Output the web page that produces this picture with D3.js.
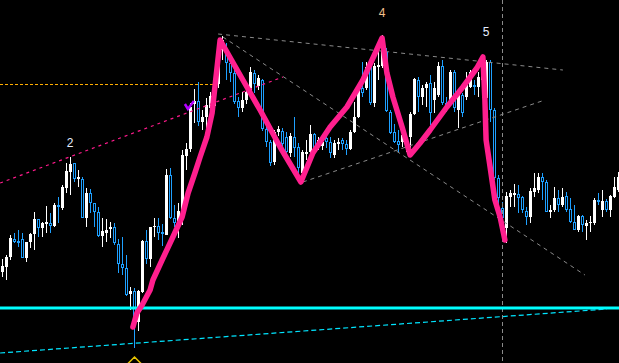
<!DOCTYPE html>
<html>
<head>
<meta charset="utf-8">
<script src="https://cdn.jsdelivr.net/npm/d3@7"></script>
<style>
  html, body { margin: 0; padding: 0; background: #000; overflow: hidden; }
  svg { display: block; }
</style>
</head>
<body>
<div id="chart"></div>
<script>
// candle data (price units, higher = up)
const open = [91, 96, 106, 124, 122, 124, 105, 121, 129, 144, 135, 139, 140, 137, 158, 155, 175, 191, 200, 184,
  184, 145, 170, 160, 151, 127, 130, 134, 136, 119, 99, 95, 69, 72, 41, 71, 122, 104, 136, 137,
  131, 128, 188, 145, 140, 151, 207, 214, 259, 262, 241, 246, 255, 257, 279, 313, 314, 300, 290, 262,
  255, 263, 271, 290, 277, 283, 234, 221, 201, 231, 232, 226, 210, 226, 216, 190, 209, 211, 229, 221,
  217, 225, 221, 208, 219, 223, 219, 214, 231, 246, 275, 275, 297, 260, 296, 297, 311, 251, 231, 222,
  221, 217, 226, 249, 283, 266, 275, 280, 263, 268, 297, 260, 260, 291, 253, 268, 266, 276, 278, 276,
  283, 265, 301, 253, 185, 155, 135, 166, 168, 169, 166, 152, 146, 171, 173, 186, 181, 151, 153, 165,
  158, 167, 154, 141, 133, 147, 137, 140, 140, 163, 153, 162, 153, 166, 173]
const high = [104, 108, 128, 130, 133, 130, 121, 130, 151, 144, 141, 157, 150, 160, 166, 178, 200, 206, 200, 193,
  186, 175, 174, 160, 156, 145, 144, 141, 140, 124, 126, 108, 76, 75, 73, 123, 133, 136, 145, 145,
  139, 194, 195, 158, 160, 213, 220, 260, 274, 281, 253, 265, 271, 288, 325, 327, 320, 308, 298, 266,
  271, 280, 296, 293, 288, 284, 237, 223, 233, 237, 235, 231, 230, 246, 220, 213, 223, 238, 230, 226,
  228, 228, 226, 223, 225, 225, 223, 233, 261, 275, 301, 301, 300, 300, 316, 328, 315, 253, 239, 233,
  235, 228, 251, 285, 286, 278, 281, 288, 281, 301, 303, 266, 293, 293, 273, 270, 291, 293, 283, 291,
  307, 303, 303, 255, 188, 161, 171, 173, 179, 178, 167, 156, 175, 190, 190, 190, 183, 158, 176, 173,
  175, 171, 165, 158, 148, 148, 143, 147, 165, 170, 173, 164, 168, 186, 191]
const low = [86, 83, 103, 120, 116, 105, 101, 115, 113, 126, 126, 130, 130, 136, 140, 153, 170, 168, 181, 176,
  145, 136, 150, 136, 126, 116, 121, 125, 118, 90, 88, 67, 53, 15, 32, 70, 99, 96, 126, 123,
  117, 128, 144, 136, 125, 138, 193, 211, 240, 237, 233, 235, 251, 253, 275, 303, 283, 281, 259, 246,
  251, 259, 267, 270, 273, 232, 216, 197, 198, 227, 215, 205, 206, 206, 190, 186, 203, 210, 211, 213,
  213, 215, 205, 205, 213, 213, 208, 213, 230, 245, 266, 273, 258, 256, 283, 295, 251, 229, 220, 211,
  216, 211, 215, 248, 251, 258, 256, 238, 250, 266, 258, 251, 257, 251, 235, 246, 263, 275, 268, 266,
  281, 263, 241, 183, 158, 136, 120, 156, 156, 150, 150, 138, 140, 166, 170, 163, 151, 145, 151, 151,
  156, 151, 140, 133, 131, 131, 123, 131, 138, 158, 146, 151, 146, 165, 171]
const close = [97, 106, 125, 121, 120, 105, 121, 129, 144, 135, 140, 141, 137, 158, 157, 176, 192, 199, 184, 186,
  145, 170, 160, 151, 127, 132, 133, 136, 120, 99, 95, 68, 72, 40, 72, 122, 104, 136, 137, 130,
  129, 188, 145, 140, 152, 208, 214, 256, 262, 241, 246, 258, 267, 281, 315, 323, 300, 290, 261, 255,
  263, 271, 291, 279, 285, 234, 221, 200, 231, 234, 219, 211, 227, 215, 195, 211, 211, 229, 215, 223,
  221, 221, 210, 220, 221, 219, 214, 231, 246, 273, 270, 296, 260, 297, 298, 319, 252, 230, 221, 218,
  228, 225, 249, 284, 266, 275, 279, 250, 275, 297, 260, 258, 291, 255, 268, 250, 278, 291, 276, 286,
  303, 301, 253, 185, 165, 145, 167, 170, 170, 165, 153, 146, 172, 175, 186, 181, 151, 153, 165, 158,
  166, 153, 141, 133, 147, 138, 140, 141, 163, 161, 162, 153, 167, 176, 186]

// hand drawn zigzag: [bar index, price]
const zigzag = [[32.6, 36], [33.6, 50], [34.9, 58], [36.9, 73], [37.6, 83], [39.9, 103], [42.6, 126],
  [44.9, 146], [46.4, 170], [48.1, 190], [49.4, 206], [51.1, 226], [52.4, 250], [53.1, 276], [54.4, 323],
  [61.1, 276], [64.4, 253], [69.4, 216], [74.6, 181], [77.6, 210], [81.9, 236], [86.1, 256], [90.1, 283],
  [94.9, 325], [96.1, 290], [97.6, 266], [99.9, 236], [101.9, 208], [104.4, 220], [106.9, 233],
  [111.1, 256], [115.1, 276], [118.6, 295], [120.1, 306], [120.6, 263], [120.9, 223], [121.9, 196],
  [123.1, 163], [124.4, 146], [125.6, 123]]

// trend lines: [[i0, p0], [i1, p1]]
const greyLines = [
  [[53.9, 329], [140.1, 293]],
  [[55.1, 326], [145.6, 88]],
  [[75.1, 181], [135.6, 263]]
]
const pinkTrend = [[-0.6, 180], [70.1, 286]]
const orangeLevel = { price: 279, from: -0.6, to: 53.1 }
const cyanLevel = 55
const cyanTrend = [[-0.6, 10], [151.1, 54]]
const cursorBar = 124.9

const waveLabels = ['2', '4', '5']
const waveAt = [[16.9, 220], [94.9, 350], [120.9, 331]]
const waveColors = ['#e6eeff', '#f2c08c', '#e6eeff']

const checkMark = [46.6, 257]
const lowMarker = [33, 0]

const W = 619
const H = 363

const x = d3.scaleLinear().domain([0, 154]).range([2.5, 618.5])
const y = d3.scaleLinear().domain([0, 363]).range([H, 0])

const svg = d3.select('#chart')
  .append('svg')
  .attr('width', W)
  .attr('height', H)
  .style('background', '#000')

const bars = d3.range(open.length).map(function (i) {
  return { i: i, o: open[i], h: high[i], l: low[i], c: close[i] }
})
const bull = '#ffffff'
const bear = '#1ea0ff'

// wicks
svg.append('g')
  .selectAll('line')
  .data(bars)
  .enter()
  .append('line')
  .attr('x1', d => x(d.i))
  .attr('x2', d => x(d.i))
  .attr('y1', d => y(d.h))
  .attr('y2', d => y(d.l))
  .attr('stroke', d => d.c >= d.o ? bull : bear)
  .attr('stroke-width', 1)

// bodies
svg.append('g')
  .selectAll('rect')
  .data(bars)
  .enter()
  .append('rect')
  .attr('x', d => d.c >= d.o ? x(d.i) - 1.5 : x(d.i) - 1)
  .attr('width', d => d.c >= d.o ? 3 : 2)
  .attr('y', d => d.c >= d.o ? y(d.c) : y(d.o) + 0.5)
  .attr('height', d => Math.max(1, Math.abs(y(d.o) - y(d.c)) - (d.c >= d.o ? 0 : 1)))
  .attr('fill', d => d.c >= d.o ? bull : '#000')
  .attr('stroke', d => d.c >= d.o ? 'none' : bear)
  .attr('stroke-width', 1)

const line = d3.line().x(d => x(d[0])).y(d => y(d[1]))

// grey dashed channel lines
svg.append('g')
  .selectAll('path')
  .data(greyLines)
  .enter()
  .append('path')
  .attr('d', line)
  .attr('fill', 'none')
  .attr('stroke', '#8a8a8a')
  .attr('stroke-width', 1)
  .attr('stroke-dasharray', '4,4')

svg.append('line')
  .attr('x1', Math.round(x(cursorBar)) + 0.5)
  .attr('x2', Math.round(x(cursorBar)) + 0.5)
  .attr('y1', 0)
  .attr('y2', H)
  .attr('stroke', '#8a8a8a')
  .attr('stroke-dasharray', '4,3')

svg.append('path')
  .attr('d', line(pinkTrend))
  .attr('fill', 'none')
  .attr('stroke', '#ff1a8c')
  .attr('stroke-width', 1.2)
  .attr('stroke-dasharray', '3,4')

svg.append('line')
  .attr('x1', 0)
  .attr('x2', x(orangeLevel.to))
  .attr('y1', Math.round(y(orangeLevel.price)) + 0.5)
  .attr('y2', Math.round(y(orangeLevel.price)) + 0.5)
  .attr('stroke', '#ffae00')
  .attr('stroke-dasharray', '3,2')

svg.append('line')
  .attr('x1', 0)
  .attr('x2', W)
  .attr('y1', y(cyanLevel))
  .attr('y2', y(cyanLevel))
  .attr('stroke', '#00ffff')
  .attr('stroke-width', 3)

svg.append('path')
  .attr('d', line(cyanTrend))
  .attr('fill', 'none')
  .attr('stroke', '#00e5ff')
  .attr('stroke-width', 1.2)
  .attr('stroke-dasharray', '5,3')

// small markers
svg.append('path')
  .attr('transform', 'translate(' + x(checkMark[0]) + ',' + y(checkMark[1]) + ')')
  .attr('d', 'M-4,-2 L-1,3 L5,-5')
  .attr('fill', 'none')
  .attr('stroke', '#b400ff')
  .attr('stroke-width', 2.5)

svg.append('path')
  .attr('transform', 'translate(' + x(lowMarker[0]) + ',' + y(lowMarker[1]) + ')')
  .attr('d', 'M0,-6 L6,0 L0,6 L-6,0 Z')
  .attr('fill', 'none')
  .attr('stroke', '#e6c200')
  .attr('stroke-width', 1.5)

// zigzag
svg.append('path')
  .attr('d', line(zigzag))
  .attr('fill', 'none')
  .attr('stroke', '#ff1f8e')
  .attr('stroke-width', 5.5)
  .attr('stroke-linejoin', 'round')
  .attr('stroke-linecap', 'round')

svg.append('g')
  .selectAll('text')
  .data(waveLabels)
  .enter()
  .append('text')
  .attr('x', (d, k) => x(waveAt[k][0]))
  .attr('y', (d, k) => y(waveAt[k][1]))
  .attr('text-anchor', 'middle')
  .attr('dominant-baseline', 'central')
  .attr('fill', (d, k) => waveColors[k])
  .style('font-family', 'Liberation Sans, Arial, sans-serif')
  .style('font-size', '12px')
  .text(d => d)
</script>
</body>
</html>
